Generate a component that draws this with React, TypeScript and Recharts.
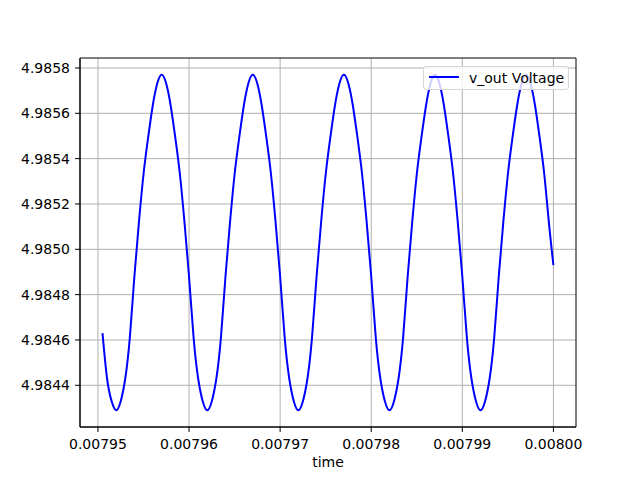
import React from "react";
import { LineChart, Line, XAxis, YAxis, CartesianGrid, ReferenceArea } from "recharts";

// time samples (s), every 0.5 µs
const TIME = [
  0.0079505, 0.0079510, 0.0079515, 0.0079520, 0.0079525, 0.0079530, 0.0079535, 0.0079540, 0.0079545, 0.0079550,
  0.0079555, 0.0079560, 0.0079565, 0.0079570, 0.0079575, 0.0079580, 0.0079585, 0.0079590, 0.0079595, 0.0079600,
  0.0079605, 0.0079610, 0.0079615, 0.0079620, 0.0079625, 0.0079630, 0.0079635, 0.0079640, 0.0079645, 0.0079650,
  0.0079655, 0.0079660, 0.0079665, 0.0079670, 0.0079675, 0.0079680, 0.0079685, 0.0079690, 0.0079695, 0.0079700,
  0.0079705, 0.0079710, 0.0079715, 0.0079720, 0.0079725, 0.0079730, 0.0079735, 0.0079740, 0.0079745, 0.0079750,
  0.0079755, 0.0079760, 0.0079765, 0.0079770, 0.0079775, 0.0079780, 0.0079785, 0.0079790, 0.0079795, 0.0079800,
  0.0079805, 0.0079810, 0.0079815, 0.0079820, 0.0079825, 0.0079830, 0.0079835, 0.0079840, 0.0079845, 0.0079850,
  0.0079855, 0.0079860, 0.0079865, 0.0079870, 0.0079875, 0.0079880, 0.0079885, 0.0079890, 0.0079895, 0.0079900,
  0.0079905, 0.0079910, 0.0079915, 0.0079920, 0.0079925, 0.0079930, 0.0079935, 0.0079940, 0.0079945, 0.0079950,
  0.0079955, 0.0079960, 0.0079965, 0.0079970, 0.0079975, 0.0079980, 0.0079985, 0.0079990, 0.0079995, 0.0080000,
];
// v_out Voltage (V)
const V_OUT = [
  4.98463, 4.98443, 4.98433, 4.98429, 4.98433, 4.98443, 4.98461, 4.98488, 4.98512, 4.98533,
  4.98549, 4.98563, 4.98573, 4.98577, 4.98573, 4.98563, 4.98549, 4.98533, 4.98512, 4.98488,
  4.98461, 4.98443, 4.98433, 4.98429, 4.98433, 4.98443, 4.98461, 4.98488, 4.98512, 4.98533,
  4.98549, 4.98563, 4.98573, 4.98577, 4.98573, 4.98563, 4.98549, 4.98533, 4.98512, 4.98488,
  4.98461, 4.98443, 4.98433, 4.98429, 4.98433, 4.98443, 4.98461, 4.98488, 4.98512, 4.98533,
  4.98549, 4.98563, 4.98573, 4.98577, 4.98573, 4.98563, 4.98549, 4.98533, 4.98512, 4.98488,
  4.98461, 4.98443, 4.98433, 4.98429, 4.98433, 4.98443, 4.98461, 4.98488, 4.98512, 4.98533,
  4.98549, 4.98563, 4.98573, 4.98577, 4.98573, 4.98563, 4.98549, 4.98533, 4.98512, 4.98488,
  4.98461, 4.98443, 4.98433, 4.98429, 4.98433, 4.98443, 4.98461, 4.98488, 4.98512, 4.98533,
  4.98549, 4.98563, 4.98573, 4.98577, 4.98573, 4.98563, 4.98549, 4.98533, 4.98512, 4.98493,
];
const X_TICKS = [0.00795, 0.00796, 0.00797, 0.00798, 0.00799, 0.008];
const Y_TICKS = [4.9844, 4.9846, 4.9848, 4.985, 4.9852, 4.9854, 4.9856, 4.9858];

const X_DOMAIN = [0.00794803, 0.00800248];
const Y_DOMAIN = [4.984216, 4.985844];

const data = TIME.map((t, i) => ({ t, v: V_OUT[i] }));

const FONT = "'DejaVu Sans', sans-serif";
const tickStyle = { fill: "#000", fontSize: 14, fontFamily: FONT };

export default function App() {
  return (
    <div style={{ position: "absolute", left: 0, top: 0, width: 640, height: 480, background: "#fff" }}>
      <LineChart width={640} height={480} data={data}
        margin={{ top: 58, right: 64, bottom: 0, left: 0 }}>
        <CartesianGrid stroke="#b0b0b0" strokeWidth={1}
          horizontalValues={Y_TICKS} verticalValues={X_TICKS} />
        <XAxis dataKey="t" type="number" domain={X_DOMAIN} allowDataOverflow
          ticks={X_TICKS} tickFormatter={v => v.toFixed(5)} interval={0}
          height={53} tick={tickStyle} tickSize={5} tickMargin={7}
          stroke="#000" tickLine={{ stroke: "#000" }}
          label={{ value: "time", position: "insideBottom", offset: 13, fill: "#000", fontSize: 14, fontFamily: FONT }} />
        <YAxis type="number" domain={Y_DOMAIN} allowDataOverflow
          ticks={Y_TICKS} tickFormatter={v => v.toFixed(4)} interval={0}
          width={80} tick={tickStyle} tickSize={5} tickMargin={5}
          stroke="#000" tickLine={{ stroke: "#000" }} />
        <ReferenceArea x1={X_DOMAIN[0]} x2={X_DOMAIN[1]} y1={Y_DOMAIN[0]} y2={Y_DOMAIN[1]}
          fill="none" stroke="#000" strokeWidth={1} ifOverflow="visible" />
        <Line type="natural" dataKey="v" stroke="#0000ff" strokeWidth={2}
          dot={false} isAnimationActive={false} />
      </LineChart>
      <div style={{
        position: "absolute", left: 423, top: 66, width: 146, height: 24, boxSizing: "border-box",
        border: "1px solid #d6d6d6", borderRadius: 3, background: "rgba(255,255,255,0.8)",
        fontFamily: FONT, fontSize: 14, color: "#000",
      }}>
        <span style={{ position: "absolute", left: 5, top: 9, width: 30, height: 2, background: "#0000ff" }} />
        <span style={{ position: "absolute", left: 45, top: 2, whiteSpace: "nowrap", lineHeight: "18px" }}>v_out Voltage</span>
      </div>
    </div>
  );
}
